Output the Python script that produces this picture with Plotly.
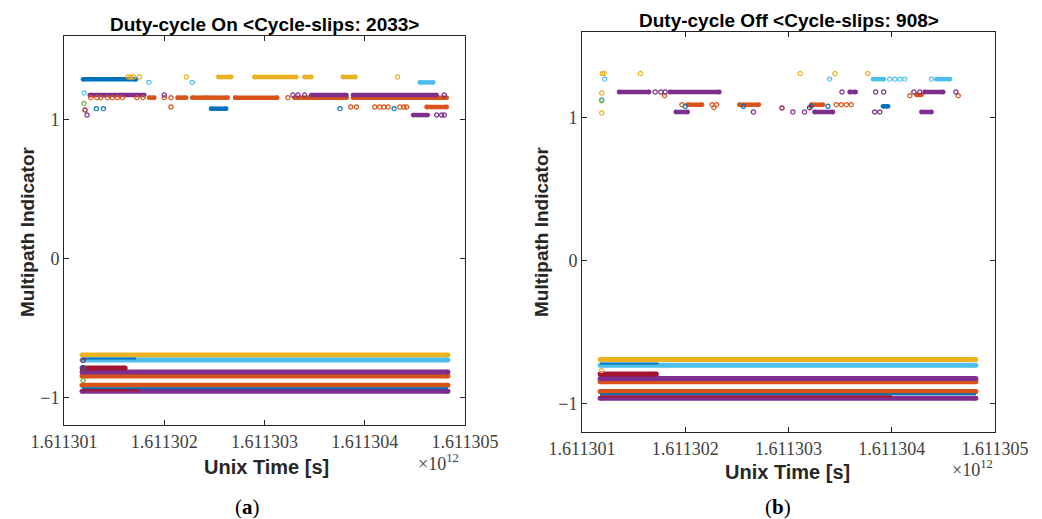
import plotly.graph_objects as go

W, H = 1042, 519
COLORS = {
    "blue": "#0072BD", "orange": "#D95319", "yellow": "#EDB120", "purple": "#7E2F8E",
    "green": "#77AC30", "lblue": "#4DBEEE", "dred": "#A2142F",
}
SERIES_ORDER = ["orange", "blue", "yellow", "lblue", "purple", "green", "dred"]

# x values in units of 10^12 s
X_TICKS = [1.611301, 1.611302, 1.611303, 1.611304, 1.611305]
Y_TICKS = [-1, 0, 1]

# ---------------- Panel (a): Duty-cycle On ----------------
a_run_series = ["blue", "yellow", "yellow", "yellow", "yellow", "lblue",
                "orange", "orange", "orange", "orange", "orange", "orange", "orange", "orange",
                "purple", "purple", "purple", "blue", "orange", "purple"]
a_run_y = [1.288, 1.305, 1.305, 1.305, 1.305, 1.266,
           1.156, 1.156, 1.156, 1.156, 1.156, 1.156, 1.156, 1.156,
           1.175, 1.175, 1.175, 1.077, 1.089, 1.031]
a_run_start = [1.61130119, 1.61130254, 1.61130290, 1.61130340, 1.611303783, 1.61130455,
               1.61130185, 1.611302133, 1.61130228, 1.611302427, 1.611302707, 1.61130330, 1.61130347, 1.611303883,
               1.611301257, 1.611303467, 1.611303883, 1.611302467, 1.611304617, 1.611304483]
a_run_end = [1.611301717, 1.611302667, 1.611303317, 1.611303467, 1.611303907, 1.611304683,
             1.61130190, 1.611302217, 1.61130240, 1.611302633, 1.611303127, 1.61130345, 1.61130382, 1.611304817,
             1.61130180, 1.611303817, 1.611304717, 1.611302617, 1.611304817, 1.611304627]

a_pt_series = (["yellow"] * 6 + ["lblue"] * 3 + ["purple"] * 5 + ["orange"] * 12 + ["green"]
               + ["orange"] * 10 + ["blue"] * 4 + ["dred"] + ["purple"] * 4
               + ["dred", "blue", "green"])
a_pt_x = [1.61130164, 1.611301667, 1.611301693, 1.611301753, 1.61130222, 1.611304327,
          1.611301847, 1.61130228, 1.61130120,
          1.61130200, 1.611303283, 1.611303333, 1.61130340, 1.611304793,
          1.611301267, 1.611301327, 1.611301367, 1.611301433, 1.611301483, 1.611301533, 1.611301583,
          1.611301727, 1.611301787, 1.61130200, 1.611302067, 1.611303233,
          1.61130120,
          1.611302067, 1.61130386, 1.611303917, 1.61130410, 1.61130415, 1.61130419, 1.611304233,
          1.61130435, 1.61130439, 1.611304417,
          1.611301323, 1.611301393, 1.611303753, 1.611304293,
          1.61130121,
          1.61130123, 1.611304717, 1.611304767, 1.611304793,
          1.61130119, 1.61130119, 1.61130119]
a_pt_y = [1.305, 1.305, 1.305, 1.305, 1.305, 1.305,
          1.266, 1.266, 1.19,
          1.175, 1.175, 1.175, 1.175, 1.175,
          1.156, 1.156, 1.156, 1.156, 1.156, 1.156, 1.156, 1.156, 1.156, 1.156, 1.156, 1.156,
          1.115,
          1.089, 1.089, 1.089, 1.089, 1.089, 1.089, 1.089, 1.089, 1.089, 1.089,
          1.077, 1.077, 1.077, 1.077,
          1.067,
          1.031, 1.031, 1.031, 1.031,
          -0.735, -0.785, -0.88]

a_band_series = ["yellow", "lblue", "orange", "purple", "dred", "orange", "purple"]
a_band_y = [-0.697, -0.733, -0.847, -0.818, -0.79, -0.914, -0.957]
a_band_start = [1.61130118, 1.61130118, 1.61130118, 1.61130118, 1.61130118, 1.61130118, 1.61130118]
a_band_end = [1.61130483, 1.61130483, 1.61130483, 1.61130483, 1.61130161, 1.61130483, 1.61130483]

a_thin_series = ["blue", "blue", "dred"]
a_thin_y = [-0.722, -0.935, -0.95]
a_thin_start = [1.61130118, 1.61130118, 1.61130118]
a_thin_end = [1.61130172, 1.61130483, 1.61130175]

# ---------------- Panel (b): Duty-cycle Off ----------------
b_run_series = ["orange", "orange", "orange", "orange", "blue",
                "purple", "purple", "purple", "purple",
                "purple", "purple", "purple", "lblue", "lblue"]
b_run_y = [1.091, 1.091, 1.091, 1.16, 1.08,
           1.18, 1.18, 1.18, 1.18,
           1.04, 1.04, 1.04, 1.27, 1.27]
b_run_start = [1.611302023, 1.611302524, 1.61130322, 1.611304239, 1.611303916,
               1.611301359, 1.611301851, 1.611303592, 1.61130432,
               1.611301909, 1.611303252, 1.611304288, 1.611303819, 1.611304434]
b_run_end = [1.611302162, 1.611302712, 1.611303333, 1.611304288, 1.611303964,
             1.61130165, 1.61130233, 1.61130365, 1.611304498,
             1.611302023, 1.61130343, 1.611304385, 1.611303922, 1.611304563]

b_pt_series = (["yellow"] * 6 + ["lblue"] * 7 + ["yellow", "lblue", "green", "yellow"]
               + ["purple"] * 9 + ["orange"] * 3 + ["orange"] * 7 + ["orange"]
               + ["blue"] * 4 + ["purple"] * 5 + ["dred"] * 2 + ["yellow"])
b_pt_x = [1.611301197, 1.611301214, 1.611301566, 1.611303113, 1.61130345, 1.611303767,
          1.61130122, 1.611303398, 1.61130398, 1.61130403, 1.61130408, 1.611304126, 1.611304385,
          1.611301191, 1.611301191, 1.611301191, 1.611301191,
          1.611301709, 1.611301764, 1.611301806, 1.611303518, 1.611303844, 1.611303922,
          1.611304214, 1.611304272, 1.611304621,
          1.6113018, 1.611304175, 1.611304644,
          1.611301968, 1.611302259, 1.611302304, 1.611303463, 1.61130351, 1.61130356, 1.611303608,
          1.611302278,
          1.611302, 1.611302563, 1.61130322, 1.611303382,
          1.61130266, 1.611303042, 1.611303155, 1.611303835, 1.611303884,
          1.611302937, 1.611303204,
          1.61130119]
b_pt_y = [1.309, 1.309, 1.309, 1.309, 1.309, 1.309,
          1.27, 1.27, 1.27, 1.27, 1.27, 1.27, 1.27,
          1.173, 1.126, 1.118, 1.033,
          1.18, 1.18, 1.18, 1.18, 1.18, 1.18, 1.18, 1.18, 1.18,
          1.154, 1.154, 1.154,
          1.091, 1.091, 1.091, 1.091, 1.091, 1.091, 1.091,
          1.07,
          1.08, 1.08, 1.08, 1.08,
          1.04, 1.04, 1.04, 1.04, 1.04,
          1.068, 1.07,
          -0.77]

b_band_series = ["yellow", "lblue", "orange", "purple", "dred", "orange", "purple"]
b_band_y = [-0.693, -0.733, -0.848, -0.826, -0.794, -0.916, -0.963]
b_band_start = [1.611301175, 1.611301175, 1.611301175, 1.611301175, 1.611301175, 1.611301175, 1.611301175]
b_band_end = [1.611304815, 1.611304815, 1.611304815, 1.611304815, 1.61130172, 1.611304815, 1.611304815]

b_thin_series = ["blue", "blue", "dred"]
b_thin_y = [-0.72, -0.935, -0.95]
b_thin_start = [1.611301175, 1.611301175, 1.611301175]
b_thin_end = [1.61130174, 1.611304815, 1.61130400]

fig = go.Figure()


def add_panel(xa, ya, run_s, run_y, run_x0, run_x1, pt_s, pt_x, pt_y,
              band_s, band_y, band_x0, band_x1, thin_s, thin_y, thin_x0, thin_x1):
    # dense bands near -1
    for s, y, x0, x1 in zip(band_s, band_y, band_x0, band_x1):
        fig.add_trace(go.Scatter(
            x=[x0, x1], y=[y, y], mode="lines+markers", xaxis=xa, yaxis=ya,
            line=dict(color=COLORS[s], width=5),
            marker=dict(symbol="circle", size=5, color=COLORS[s]),
            showlegend=False, hoverinfo="skip"))
    for s, y, x0, x1 in zip(thin_s, thin_y, thin_x0, thin_x1):
        fig.add_trace(go.Scatter(
            x=[x0, x1], y=[y, y], mode="lines", xaxis=xa, yaxis=ya,
            line=dict(color=COLORS[s], width=2),
            showlegend=False, hoverinfo="skip"))
    # runs of consecutive observations (top)
    for ser in SERIES_ORDER:
        xs, ys = [], []
        for s, y, x0, x1 in zip(run_s, run_y, run_x0, run_x1):
            if s == ser:
                xs += [x0, x1, None]
                ys += [y, y, None]
        if xs:
            fig.add_trace(go.Scatter(
                x=xs, y=ys, mode="lines+markers", xaxis=xa, yaxis=ya,
                line=dict(color=COLORS[ser], width=4.5),
                marker=dict(symbol="circle", size=4.8, color=COLORS[ser]),
                showlegend=False, hoverinfo="skip"))
    # isolated observations
    for ser in SERIES_ORDER:
        xs = [x for s, x in zip(pt_s, pt_x) if s == ser]
        ys = [y for s, y in zip(pt_s, pt_y) if s == ser]
        if xs:
            fig.add_trace(go.Scatter(
                x=xs, y=ys, mode="markers", xaxis=xa, yaxis=ya,
                marker=dict(symbol="circle-open", size=4.2, color=COLORS[ser],
                            line=dict(width=1.2, color=COLORS[ser])),
                showlegend=False, hoverinfo="skip"))


add_panel("x", "y", a_run_series, a_run_y, a_run_start, a_run_end,
          a_pt_series, a_pt_x, a_pt_y,
          a_band_series, a_band_y, a_band_start, a_band_end,
          a_thin_series, a_thin_y, a_thin_start, a_thin_end)
add_panel("x2", "y2", b_run_series, b_run_y, b_run_start, b_run_end,
          b_pt_series, b_pt_x, b_pt_y,
          b_band_series, b_band_y, b_band_start, b_band_end,
          b_thin_series, b_thin_y, b_thin_start, b_thin_end)

AX_COLOR = "#262626"
TICK_FONT = dict(family="Liberation Serif", size=18, color="#404040")

xcommon = dict(range=[1.611301, 1.6113050], tickvals=X_TICKS, tickformat=".6f", automargin=False,
               ticks="inside", ticklen=5, tickcolor=AX_COLOR, showline=True, linecolor=AX_COLOR,
               linewidth=1, mirror="ticks", showgrid=False, zeroline=False, tickfont=TICK_FONT)
ycommon = dict(range=[-1.2, 1.6], tickvals=Y_TICKS, automargin=False,
               ticks="inside", ticklen=5, tickcolor=AX_COLOR, showline=True, linecolor=AX_COLOR,
               linewidth=1, mirror="ticks", showgrid=False, zeroline=False, tickfont=TICK_FONT)

fig.update_layout(
    template="none",
    width=W, height=H, margin=dict(l=0, r=0, t=0, b=0, pad=0), autosize=False,
    paper_bgcolor="white", plot_bgcolor="white", showlegend=False,
    xaxis=dict(domain=[64 / W, 465 / W], anchor="y", **xcommon),
    yaxis=dict(domain=[1 - 425 / H, 1 - 36 / H], anchor="x", **ycommon),
    xaxis2=dict(domain=[582 / W, 995 / W], anchor="y2", **xcommon),
    yaxis2=dict(domain=[1 - 432 / H, 1 - 32 / H], anchor="x2", **ycommon),
)

TITLE_B = dict(family="Liberation Sans", size=19, color="#000000")
XLAB_B = dict(family="Liberation Sans", size=20, color="#262626")
YLAB_B = dict(family="Liberation Sans", size=19, color="#262626")
ann = [
    (264, 25, "<b>Duty-cycle On &lt;Cycle-slips: 2033&gt;</b>", TITLE_B, 0),
    (789, 20, "<b>Duty-cycle Off &lt;Cycle-slips: 908&gt;</b>", TITLE_B, 0),
    (27, 232, "<b>Multipath Indicator</b>", YLAB_B, -90),
    (541, 232, "<b>Multipath Indicator</b>", YLAB_B, -90),
    (266, 467, "<b>Unix Time [s]</b>", XLAB_B, 0),
    (787, 472, "<b>Unix Time [s]</b>", XLAB_B, 0),
    (438, 462, "×10<sup>12</sup>", dict(family="Liberation Serif", size=18, color="#404040"), 0),
    (972, 468, "×10<sup>12</sup>", dict(family="Liberation Serif", size=18, color="#404040"), 0),
    (247, 507, "(<b>a</b>)", dict(family="Liberation Serif", size=21, color="#000000"), 0),
    (778, 507, "(<b>b</b>)", dict(family="Liberation Serif", size=21, color="#000000"), 0),
]
for x, y, t, f, ang in ann:
    fig.add_annotation(x=x / W, y=1 - y / H, xref="paper", yref="paper", text=t,
                       showarrow=False, font=f, textangle=ang,
                       xanchor="center", yanchor="middle")

fig.write_html("out.html")
